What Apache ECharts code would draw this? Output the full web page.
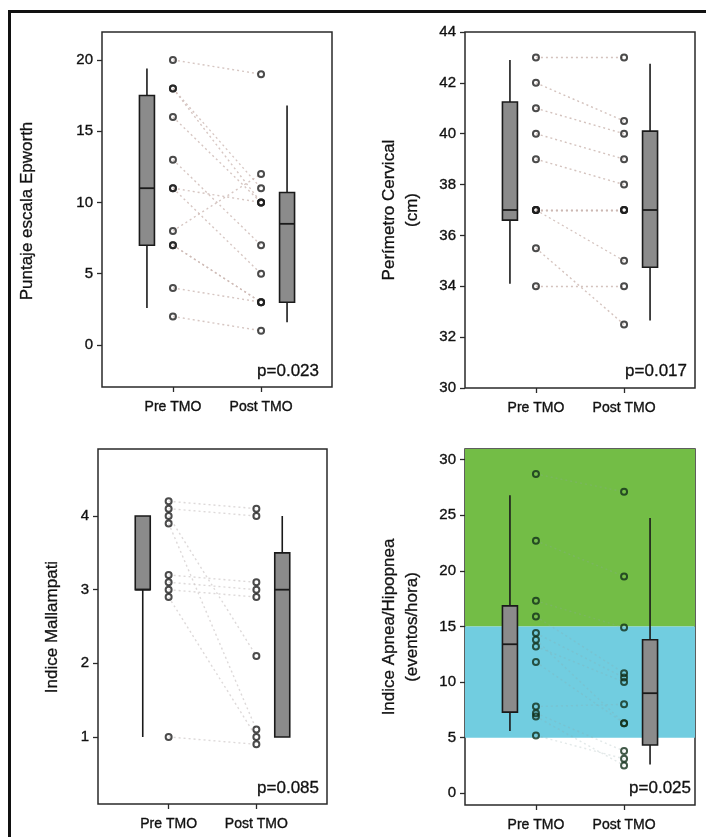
<!DOCTYPE html>
<html>
<head>
<meta charset="utf-8">
<script src="https://cdn.jsdelivr.net/npm/echarts@6/dist/echarts.min.js"></script>
<style>
html,body{margin:0;padding:0;background:#fff;}
#c{width:706px;height:837px;}
</style>
</head>
<body>
<div id="c"></div>
<script>
// ---------- data ----------
const categories = ['Pre TMO', 'Post TMO'];

// Panel 1: Puntaje escala Epworth
const epworthPre  = [20, 18, 18, 16, 13, 11, 11, 8, 7, 7, 4, 2];
const epworthPost = [19, 10, 11, 10, 7, 10, 5, 12, 3, 3, 3, 1];
const epworthBoxPre  = [2.6, 7.0, 11.0, 17.5, 19.4];   // low, Q1, median, Q3, high
const epworthBoxPost = [1.6, 3.0, 8.5, 10.7, 16.8];
const epworthTicks = [0, 5, 10, 15, 20];

// Panel 2: Perímetro Cervical (cm)
const cervicalPre  = [43, 42, 41, 40, 39, 37, 37, 37, 37, 35.5, 34];
const cervicalPost = [43, 40.5, 40, 39, 38, 37, 37, 37, 35, 32.5, 34];
const cervicalBoxPre  = [34.1, 36.6, 37.0, 41.25, 42.9];
const cervicalBoxPost = [32.65, 34.75, 37.0, 40.1, 42.75];
const cervicalTicks = [30, 32, 34, 36, 38, 40, 42, 44];

// Panel 3: Indice Mallampati (stacked points as displayed)
const mallampatiPre  = [4.2, 4.1, 4.0, 3.9, 3.2, 3.1, 3.0, 2.9, 1.0];
const mallampatiPost = [4.1, 4.0, 2.1, 1.1, 3.1, 3.0, 2.9, 1.0, 0.9];
const mallampatiBoxPre  = [1.0, 3.0, 3.0, 4.0, 4.0];
const mallampatiBoxPost = [1.0, 1.0, 3.0, 3.5, 4.0];
const mallampatiTicks = [1, 2, 3, 4];

// Panel 4: Indice Apnea/Hipopnea (eventos/hora)
const apneaPre  = [28.7, 22.7, 17.3, 15.9, 14.4, 13.8, 13.2, 11.8, 7.8, 7.2, 6.9, 5.2];
const apneaPost = [27.1, 19.5, 14.9, 10.8, 10.4, 6.3, 10.0, 6.3, 8.0, 3.8, 2.5, 3.1];
const apneaBoxPre  = [5.6, 7.3, 13.4, 16.85, 26.8];
const apneaBoxPost = [2.6, 4.35, 9.0, 13.8, 24.75];
const apneaTicks = [0, 5, 10, 15, 20, 25, 30];
const apneaBands = [[15, 30.95], [5, 15]];

const pValues = ['p=0.023', 'p=0.017', 'p=0.085', 'p=0.025'];
const yNames = ['Puntaje escala Epworth', 'Perímetro Cervical\n(cm)', 'Indice Mallampati', 'Indice Apnea/Hipopnea\n(eventos/hora)'];

// ---------- chart ----------
const FONT = '"Liberation Sans", Arial, sans-serif';
const TXT = '#111';
const panels = [
  {pre: epworthPre, post: epworthPost, bpre: epworthBoxPre, bpost: epworthBoxPost, ticks: epworthTicks,
   grid: {left: 102, top: 32, width: 230, height: 355}, ymin: -2.95, ymax: 21.96, lineColor: '#ccb8b3', lineOp: 0.8},
  {pre: cervicalPre, post: cervicalPost, bpre: cervicalBoxPre, bpost: cervicalBoxPost, ticks: cervicalTicks,
   grid: {left: 465, top: 32, width: 230, height: 356}, ymin: 30, ymax: 44, lineColor: '#ccb8b3', lineOp: 0.85},
  {pre: mallampatiPre, post: mallampatiPost, bpre: mallampatiBoxPre, bpost: mallampatiBoxPost, ticks: mallampatiTicks,
   grid: {left: 98, top: 449, width: 229, height: 355}, ymin: 0.09, ymax: 4.91, lineColor: '#d2cccc', lineOp: 0.75},
  {pre: apneaPre, post: apneaPost, bpre: apneaBoxPre, bpost: apneaBoxPost, ticks: apneaTicks,
   grid: {left: 465, top: 449, width: 230, height: 356}, ymin: -1.05, ymax: 30.95, bands: apneaBands,
   lineColor: '#8fa7a8', lineOp: 0.25}
];
const BOX_OFF = 0.295;
const XMIN = 0.195, XMAX = 2.805;
const labelStyle = {fontFamily: FONT, color: TXT, textBorderColor: TXT, textBorderWidth: 0.35};

const grids = [], xAxes = [], yAxes = [], series = [];
panels.forEach((p, i) => {
  grids.push(Object.assign({show: true, borderColor: '#2a2a2a', borderWidth: 1.5, backgroundColor: 'transparent'}, p.grid));
  xAxes.push({
    type: 'value', gridIndex: i, min: XMIN, max: XMAX,
    axisLine: {show: false, onZero: false}, splitLine: {show: false},
    axisTick: {show: true, customValues: [1, 2], length: 5, lineStyle: {color: '#2a2a2a', width: 1.3}},
    axisLabel: Object.assign({customValues: [1, 2], formatter: v => categories[Math.round(v) - 1], margin: 13,
                fontSize: 14}, labelStyle)
  });
  yAxes.push({
    type: 'value', gridIndex: i, min: p.ymin, max: p.ymax,
    axisLine: {show: false, onZero: false}, splitLine: {show: false},
    axisTick: {show: true, customValues: p.ticks, length: 5, lineStyle: {color: '#2a2a2a', width: 1.3}},
    axisLabel: Object.assign({customValues: p.ticks, margin: 9, fontSize: 15}, labelStyle)
  });
  const lineSeries = {
    type: 'lines', coordinateSystem: 'cartesian2d', xAxisIndex: i, yAxisIndex: i, z: 2,
    lineStyle: {color: p.lineColor, type: [2, 3], width: 1.4, opacity: p.lineOp},
    data: p.pre.map((v, k) => ({coords: [[1, v], [2, p.post[k]]]})),
    silent: true
  };
  if (p.bands) {
    lineSeries.markArea = {
      silent: true,
      data: [
        [{yAxis: p.bands[0][0], itemStyle: {color: '#73bd46', opacity: 1}}, {yAxis: p.bands[0][1]}],
        [{yAxis: p.bands[1][0], itemStyle: {color: '#71cde0', opacity: 1}}, {yAxis: p.bands[1][1]}]
      ]
    };
  }
  series.push(lineSeries);
  series.push({
    type: 'scatter', xAxisIndex: i, yAxisIndex: i, z: 4,
    symbol: 'circle', symbolSize: 6,
    itemStyle: {color: 'rgba(0,0,0,0)', borderColor: i === 3 ? '#12301a' : '#1e1e1e', borderWidth: 2},
    data: p.pre.map(v => [1, v]).concat(p.post.map(v => [2, v])),
    silent: true
  });
  series.push({
    type: 'custom', xAxisIndex: i, yAxisIndex: i, z: 5,
    data: [[1 - BOX_OFF].concat(p.bpre), [2 + BOX_OFF].concat(p.bpost)],
    encode: {x: 0, y: [1, 2, 3, 4, 5]},
    silent: true,
    renderItem: function (params, api) {
      const x = api.value(0);
      const lo = api.coord([x, api.value(1)]);
      const q1 = api.coord([x, api.value(2)]);
      const md = api.coord([x, api.value(3)]);
      const q3 = api.coord([x, api.value(4)]);
      const hi = api.coord([x, api.value(5)]);
      const cx = lo[0], hw = 7.5;
      const stroke = {stroke: '#1a1a1a', lineWidth: 1.6};
      return {
        type: 'group',
        children: [
          {type: 'line', shape: {x1: cx, y1: lo[1], x2: cx, y2: q1[1]}, style: stroke},
          {type: 'line', shape: {x1: cx, y1: q3[1], x2: cx, y2: hi[1]}, style: stroke},
          {type: 'rect', shape: {x: cx - hw, y: Math.min(q1[1], q3[1]), width: 2 * hw, height: Math.abs(q1[1] - q3[1])},
           style: {fill: '#8b8b8b', stroke: '#1a1a1a', lineWidth: 1.6}},
          {type: 'line', shape: {x1: cx - hw, y1: md[1], x2: cx + hw, y2: md[1]}, style: {stroke: '#1a1a1a', lineWidth: 1.8}}
        ]
      };
    }
  });
});

const pPos = [[319, 371], [687, 371], [319, 788], [691, 788]];
const namePos = [[27, 211], [401, 210], [52, 627], [401, 627]];
const graphic = [
  {type: 'rect', shape: {x: 9.5, y: 11.5, width: 800, height: 900}, style: {fill: 'none', stroke: '#111', lineWidth: 3}, z: 10}
];
pValues.forEach((t, i) => {
  graphic.push({type: 'text', x: pPos[i][0], y: pPos[i][1], z: 10,
    style: {text: t, font: '17px ' + FONT, fill: TXT, stroke: TXT, lineWidth: 0.3, textAlign: 'right', textVerticalAlign: 'middle'}});
});
yNames.forEach((t, i) => {
  graphic.push({type: 'text', x: namePos[i][0], y: namePos[i][1], rotation: Math.PI / 2, z: 10,
    style: {text: t, font: '17px ' + FONT, fill: TXT, stroke: TXT, lineWidth: 0.3, textAlign: 'center', textVerticalAlign: 'middle', lineHeight: 23}});
});

const chart = echarts.init(document.getElementById('c'), null, {renderer: 'canvas'});
chart.setOption({
  animation: false,
  backgroundColor: '#fff',
  grid: grids, xAxis: xAxes, yAxis: yAxes, series: series, graphic: graphic
});
</script>
</body>
</html>
